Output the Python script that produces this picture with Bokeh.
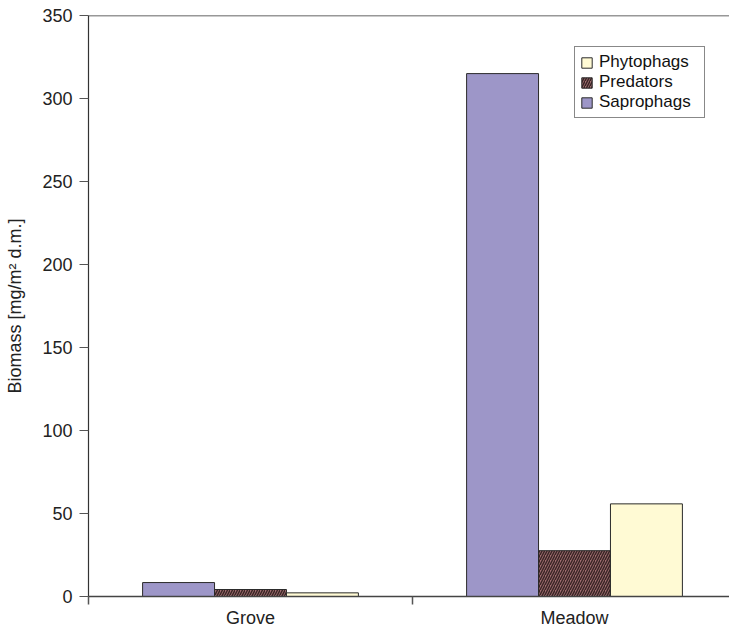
from bokeh.plotting import figure
from bokeh.models import FixedTicker, Span, Legend, LegendItem, Range1d
from bokeh.embed import file_html
from bokeh.resources import INLINE

categories = ["Grove", "Meadow"]
series = ["Saprophags", "Predators", "Phytophags"]
saprophags = [8.4, 315.0]
predators = [4.2, 27.6]
phytophags = [2.2, 55.8]
y_ticks = [0, 50, 100, 150, 200, 250, 300, 350]

FONT = "Liberation Sans"
width_bar = 0.222
offsets = [-width_bar, 0.0, width_bar]
values = [saprophags, predators, phytophags]

p = figure(width=729, height=630, output_backend="svg", toolbar_location=None,
           x_range=Range1d(0, 641 / 324), y_range=Range1d(0, 350),
           min_border_left=88, min_border_right=0, min_border_top=15, min_border_bottom=31)
p.outline_line_color = None
p.grid.grid_line_color = None

centers = [i + 0.5 for i in range(len(categories))]
styles = [
    dict(fill_color="#9D96C8"),
    dict(fill_color="#A06E70", hatch_pattern="right_diagonal_line", hatch_color="#3A2526",
         hatch_scale=5, hatch_weight=1.5),
    dict(fill_color="#FFFAD4"),
]
renderers = {}
for name, vals, off, st in zip(series, values, offsets, styles):
    xs = [c + off for c in centers]
    r = p.vbar(x=xs, top=vals, width=width_bar, bottom=0, line_color="#2a2a2a", line_width=1, **st)
    renderers[name] = r

p.add_layout(Span(location=350, dimension="width", line_color="#333333", line_width=1.5))

# x axis
p.xaxis.ticker = FixedTicker(ticks=centers, minor_ticks=[0, 1, 2])
p.xaxis.major_label_overrides = {c: n for c, n in zip(centers, categories)}
p.xaxis.major_tick_line_color = None
p.xaxis.major_tick_out = 8
p.xaxis.major_tick_in = 0
p.xaxis.minor_tick_out = 8
p.xaxis.minor_tick_in = 0
p.xaxis.minor_tick_line_color = "#555555"
p.xaxis.minor_tick_line_width = 1.5
p.xaxis.axis_line_color = "#444444"
p.xaxis.axis_line_width = 1.5
p.xaxis.major_label_text_font = FONT
p.xaxis.major_label_text_font_size = "18px"
p.xaxis.major_label_text_color = "#222222"
p.xaxis.major_label_standoff = 3

# y axis
p.yaxis.ticker = FixedTicker(ticks=y_ticks)
p.yaxis.minor_tick_line_color = None
p.yaxis.major_tick_out = 9
p.yaxis.major_tick_in = 0
p.yaxis.major_tick_line_color = "#555555"
p.yaxis.axis_line_color = "#333333"
p.yaxis.axis_line_width = 1.2
p.yaxis.major_label_text_font = FONT
p.yaxis.major_label_text_font_size = "18px"
p.yaxis.major_label_text_color = "#222222"
p.yaxis.major_label_standoff = 7
p.yaxis.axis_label = "Biomass [mg/m² d.m.]"
p.yaxis.axis_label_text_font = FONT
p.yaxis.axis_label_text_font_size = "18px"
p.yaxis.axis_label_text_font_style = "normal"
p.yaxis.axis_label_text_color = "#222222"
p.yaxis.axis_label_standoff = 14

legend = Legend(items=[LegendItem(label=n, renderers=[renderers[n]]) for n in ["Phytophags", "Predators", "Saprophags"]],
                location=(486, 478))
legend.border_line_color = "#111111"
legend.border_line_width = 1
legend.label_text_font = FONT
legend.label_text_font_size = "17px"
legend.label_text_color = "#111111"
legend.glyph_width = 13
legend.glyph_height = 13
legend.spacing = 0
legend.padding = 5
legend.margin = 0
legend.label_standoff = 6
legend.label_height = 20
legend.label_width = 100
p.add_layout(legend, "center")

open("out.html", "w").write(file_html(p, INLINE))
